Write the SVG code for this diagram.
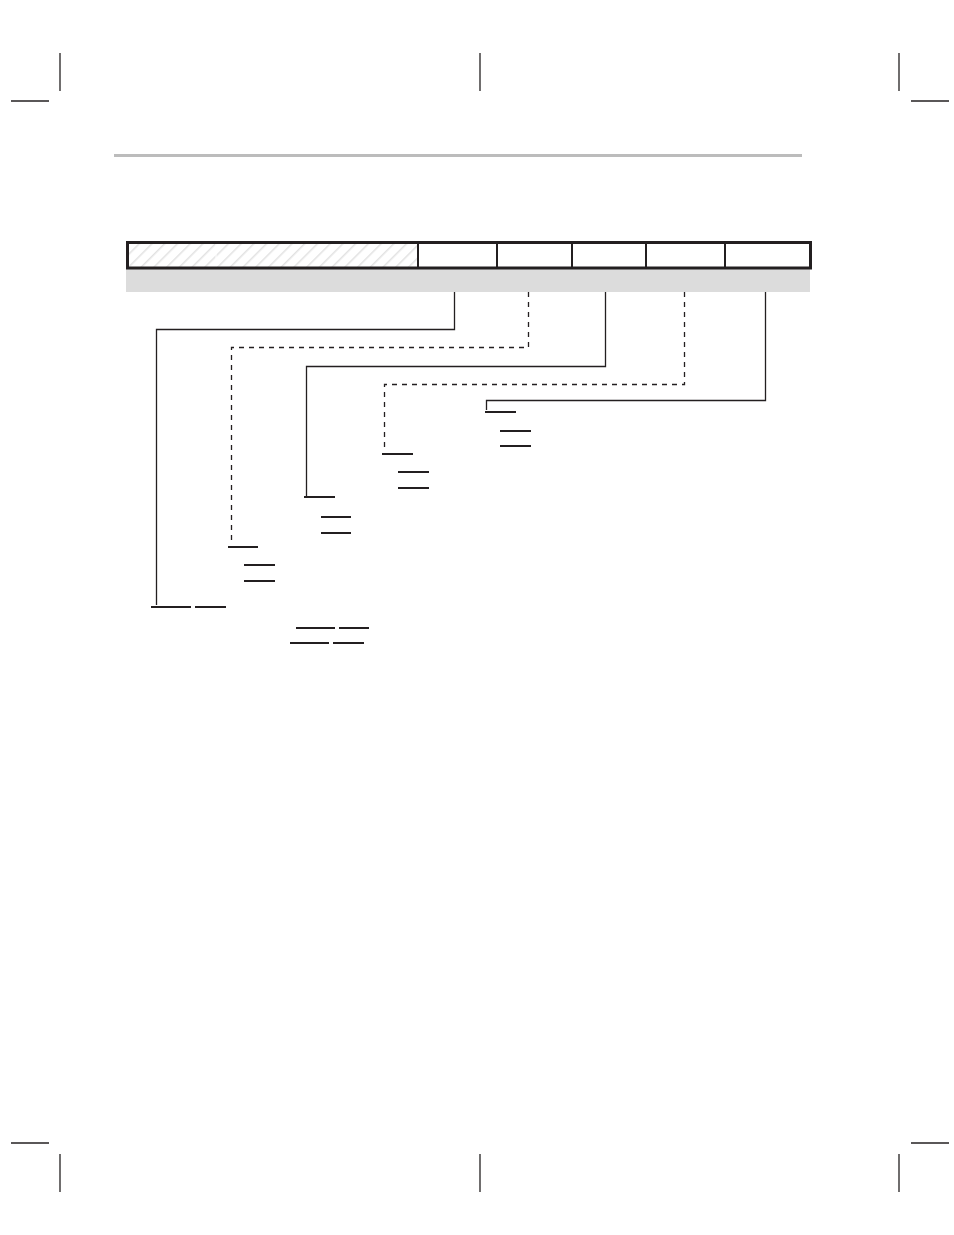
<svg xmlns="http://www.w3.org/2000/svg" width="954" height="1235" viewBox="0 0 954 1235">
<defs>
<pattern id="hatch" patternUnits="userSpaceOnUse" width="9" height="9" patternTransform="rotate(45)">
<rect width="9" height="9" fill="#ffffff"/>
<line x1="0" y1="0" x2="0" y2="9" stroke="#e2e2e2" stroke-width="3"/>
</pattern>
</defs>
<style>
.crop{stroke:#231f20;stroke-width:1.3;fill:none}
.conn{stroke:#231f20;stroke-width:1.3;fill:none}
.dash{stroke:#231f20;stroke-width:1.3;fill:none;stroke-dasharray:5,5}
.ul{stroke:#231f20;stroke-width:2;fill:none}
.div{stroke:#231f20;stroke-width:2;fill:none}
</style>
<rect width="954" height="1235" fill="#ffffff"/>
<g id="crop-marks">
<line class="crop" x1="60" y1="53" x2="60" y2="91"/>
<line class="crop" x1="11" y1="101" x2="49" y2="101"/>
<line class="crop" x1="480" y1="53" x2="480" y2="91"/>
<line class="crop" x1="899" y1="53" x2="899" y2="91"/>
<line class="crop" x1="911" y1="101" x2="949" y2="101"/>
<line class="crop" x1="11" y1="1143" x2="49" y2="1143"/>
<line class="crop" x1="60" y1="1154" x2="60" y2="1192"/>
<line class="crop" x1="480" y1="1154" x2="480" y2="1192"/>
<line class="crop" x1="911" y1="1143" x2="949" y2="1143"/>
<line class="crop" x1="899" y1="1154" x2="899" y2="1192"/>
</g>
<g id="header-rule">
<line x1="114" y1="155.5" x2="802" y2="155.5" stroke="#bcbcbc" stroke-width="3"/>
</g>
<g id="register">
<rect x="126" y="268" width="684" height="24" fill="#dcdcdc"/>
<rect x="128" y="243" width="289" height="25" fill="url(#hatch)"/>
<line x1="216" y1="244" x2="216" y2="267" stroke="#ffffff" stroke-width="1"/>
<line class="div" x1="418" y1="243" x2="418" y2="268"/>
<line class="div" x1="497" y1="243" x2="497" y2="268"/>
<line class="div" x1="572" y1="243" x2="572" y2="268"/>
<line class="div" x1="646" y1="243" x2="646" y2="268"/>
<line class="div" x1="725" y1="243" x2="725" y2="268"/>
<rect x="127.5" y="242.5" width="683" height="25.5" fill="none" stroke="#231f20" stroke-width="3"/>
</g>
<g id="connectors">
<polyline class="conn" points="454.5,292 454.5,329.5 156.5,329.5 156.5,605"/>
<polyline class="dash" points="528.5,292 528.5,347.5 231.5,347.5 231.5,541"/>
<polyline class="conn" points="605.5,292 605.5,366.5 306.5,366.5 306.5,496"/>
<polyline class="dash" points="684.5,292 684.5,384.5 384.5,384.5 384.5,452"/>
<polyline class="conn" points="765.5,292 765.5,400.5 486.5,400.5 486.5,410"/>
</g>
<g id="field-lines">
<line class="ul" x1="151" y1="607" x2="191" y2="607"/>
<line class="ul" x1="195" y1="607" x2="226" y2="607"/>
<line class="ul" x1="228" y1="547" x2="258" y2="547"/>
<line class="ul" x1="244" y1="565" x2="275" y2="565"/>
<line class="ul" x1="244" y1="581" x2="275" y2="581"/>
<line class="ul" x1="304" y1="497" x2="335" y2="497"/>
<line class="ul" x1="321" y1="517" x2="351" y2="517"/>
<line class="ul" x1="321" y1="533" x2="351" y2="533"/>
<line class="ul" x1="382" y1="454" x2="413" y2="454"/>
<line class="ul" x1="398" y1="472" x2="429" y2="472"/>
<line class="ul" x1="398" y1="488" x2="429" y2="488"/>
<line class="ul" x1="485" y1="412" x2="516" y2="412"/>
<line class="ul" x1="500" y1="431" x2="531" y2="431"/>
<line class="ul" x1="500" y1="446" x2="531" y2="446"/>
<line class="ul" x1="296" y1="628" x2="335" y2="628"/>
<line class="ul" x1="339" y1="628" x2="369" y2="628"/>
<line class="ul" x1="290" y1="643" x2="329" y2="643"/>
<line class="ul" x1="333" y1="643" x2="364" y2="643"/>
</g>
</svg>
